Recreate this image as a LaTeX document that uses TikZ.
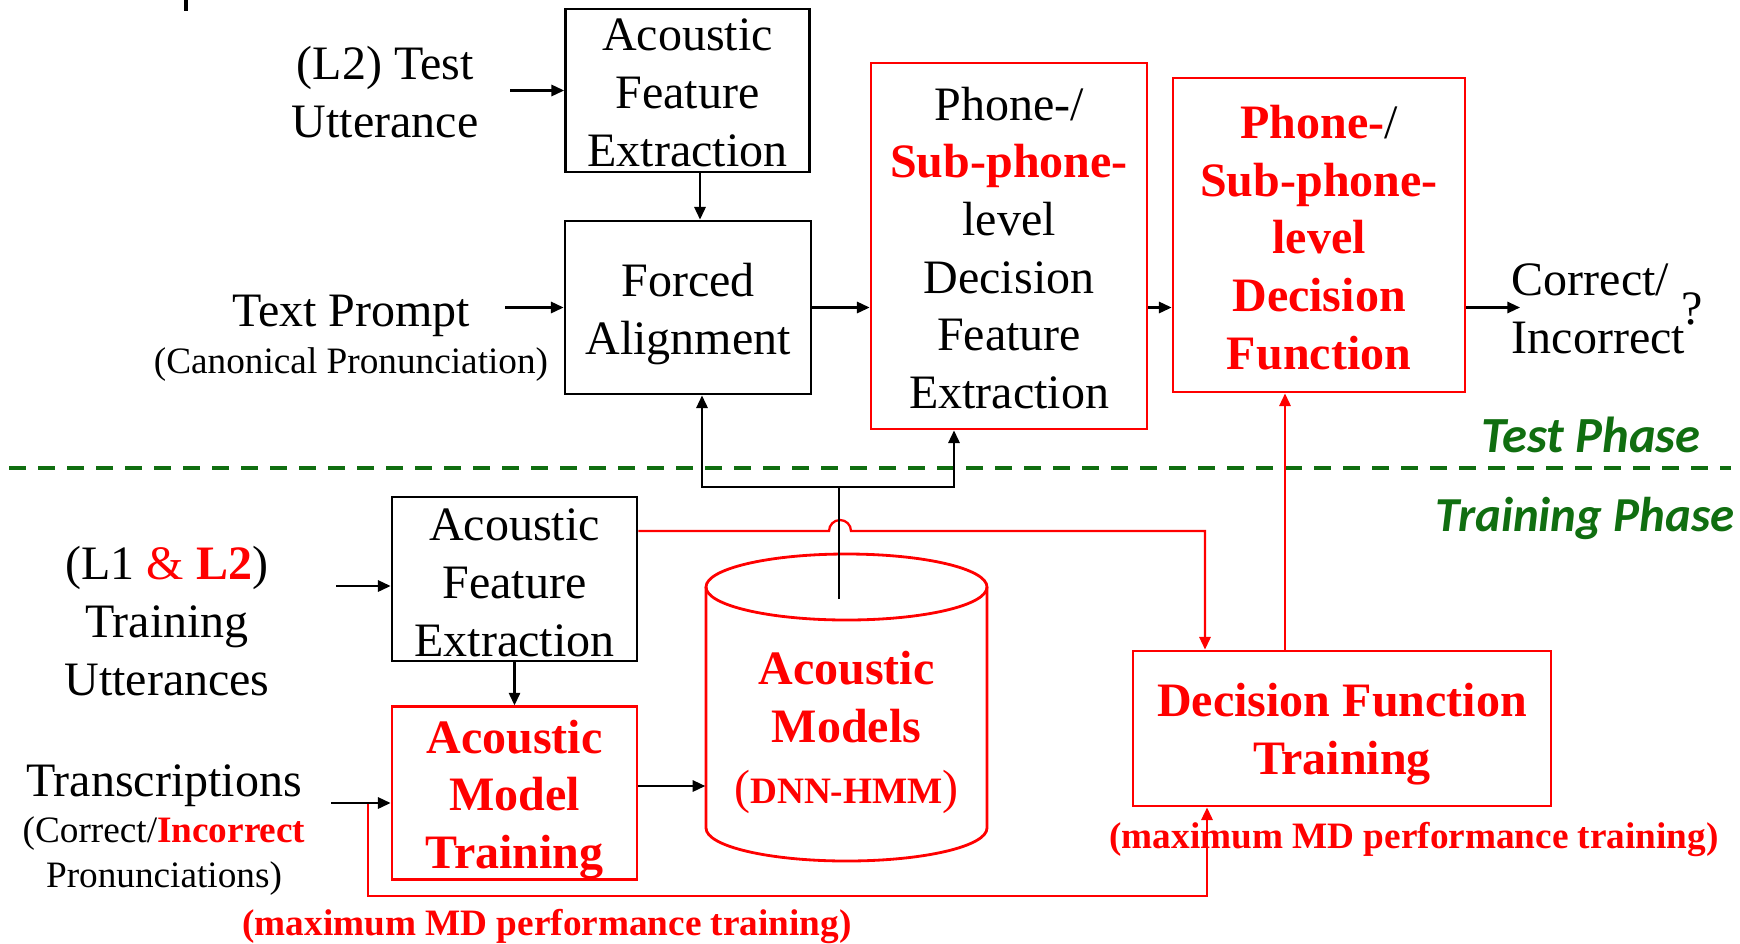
\documentclass[tikz,border=0pt]{standalone}
\usepackage{fontspec}
\setmainfont{Liberation Serif}
\newfontfamily\phasefont{Carlito}
\usetikzlibrary{arrows.meta}
\definecolor{phgreen}{RGB}{16,110,16}
\definecolor{myred}{RGB}{255,0,0}
\newcommand\fbig{\fontsize{13.66pt}{16.42pt}\selectfont}
\newcommand\fsmall{\fontsize{10.6pt}{12.8pt}\selectfont}
\newcommand\rb[1]{\textcolor{myred}{\textbf{#1}}}
\newcommand\ts[1]{\rule{0pt}{#1}}
\begin{document}
\begin{tikzpicture}[x=0.1mm,y=-0.1mm,
  box/.style={draw,line width=0.8pt,inner sep=0pt,align=center,font=\fbig},
  rbox/.style={box,draw=myred},
  txt/.style={inner sep=0pt,align=center,font=\fbig},
  stxt/.style={inner sep=0pt,align=center,font=\fsmall},
  arr/.style={line width=0.65pt,-{Triangle[length=3.6pt,width=3.2pt]}},
  rarr/.style={arr,myred},
  phase/.style={inner sep=0pt,font=\phasefont\bfseries\itshape\fontsize{13.9pt}{16pt}\selectfont,text=phgreen}
]
\useasboundingbox (0,0) rectangle (1740,943);

% ---- test phase ----
\node[box,minimum width=24.4mm,minimum height=16.3mm] (afe1) at (687.5,90.5) {\ts{10.3pt}Acoustic\\Feature\\Extraction};
\node[box,minimum width=24.6mm,minimum height=17.3mm] (fa) at (688,307.5) {\ts{13.3pt}Forced\\Alignment};
\node[rbox,minimum width=27.6mm,minimum height=36.6mm] (psdfe) at (1009,246) {\ts{10.6pt}Phone-/\\\rb{Sub-phone-}\\level\\Decision\\Feature\\Extraction};
\node[rbox,minimum width=29.2mm,minimum height=31.4mm,text=myred,font=\fbig\bfseries] (psdf) at (1319,235) {\ts{10.9pt}Phone-{\color{black}\mdseries/}\\Sub-phone-\\level\\Decision\\Function};
\node[txt] (tu) at (385,92) {(L2) Test\\Utterance};
\node[txt] (tp) at (351,315.5) {Text Prompt};
\node[stxt] (tpc) at (351,364.5) {(Canonical Pronunciation)};
\node[txt,align=left,anchor=west] (out) at (1511,309) {Correct/\\Incorrect};
\node[txt] (q) at (1692,309) {?};
\node[phase,font=\phasefont\bfseries\itshape\fontsize{14.4pt}{16pt}\selectfont] (testph) at (1591,435) {Test Phase};
\node[phase] (trainph) at (1585,518.5) {Training Phase};
\draw[phgreen,line width=1pt,dash pattern=on 1.7mm off 1.2mm] (9,468) -- (1731,468);

% ---- training phase ----
\node[box,minimum width=24.5mm,minimum height=16.4mm] (afe2) at (514.5,579) {\ts{11.25pt}Acoustic\\Feature\\Extraction};
\node[rbox,minimum width=24.5mm,minimum height=17.2mm,text=myred,font=\fbig\bfseries] (amt) at (514.5,793) {\ts{13.2pt}Acoustic\\Model\\Training};
\node[rbox,minimum width=41.8mm,minimum height=15.5mm,text=myred,font=\fbig\bfseries] (dft) at (1342,728.5) {\ts{12.6pt}Decision Function\\Training};
\node[txt] (tutt) at (167,621) {(L1 \textcolor{myred}{\&} \rb{L2})\\Training\\Utterances};
\node[txt] (trans) at (164,785.5) {Transcriptions};
\node[stxt] (transc) at (164,856.5) {(Correct/\rb{Incorrect}\\Pronunciations)};
\node[stxt,text=myred,font=\fsmall\bfseries] (md1) at (1414,839.5) {(maximum MD performance training)};
\node[stxt,text=myred,font=\fsmall\bfseries] (md2) at (547,926) {(maximum MD performance training)};

% cylinder
\draw[myred,line width=0.8pt] (846.5,587) ellipse [x radius=14.05mm,y radius=3.3mm];
\draw[myred,line width=0.8pt] (706,587) -- (706,828) arc[start angle=180,end angle=360,x radius=14.05mm,y radius=3.3mm] -- (987,587);
\node[txt,text=myred,font=\fbig\bfseries,minimum width=28.1mm] (am) at (846.5,732.5) {Acoustic\\Models\\[1pt]{\mdseries(}{\fsmall DNN-HMM}{\mdseries)}};

% ---- connectors ----
\coordinate (tuarr) at (510,90.5);
\draw[arr] (tuarr) -- (afe1.west);
\coordinate (tparr) at (505,307.5);
\draw[arr] (tparr) -- (fa.west);
\coordinate (v1) at (700,0);
\draw[arr] (v1 |- afe1.south) -- (v1 |- fa.north);
\draw[arr] (fa.east) -- (fa.east -| psdfe.west);
\draw[arr] (fa.east -| psdfe.east) -- (fa.east -| psdf.west);
\coordinate (outin) at (1520,307.5);
\draw[arr] (fa.east -| psdf.east) -- (outin);

\coordinate (tutta) at (336,586);
\draw[arr] (tutta) -- (tutta -| afe2.west);
\draw[arr] (afe2.south) -- (amt.north);

\coordinate (r0) at (368,803);
\coordinate (r1) at (1207,896);
\draw[rarr] (r0) |- (r1) -- (r1 |- dft.south);
\coordinate (transa) at (331,803);
\draw[arr] (transa) -- (transa -| amt.west);
\coordinate (c1) at (0,786);
\draw[arr] (amt.east |- c1) -- (c1 -| am.west);

\coordinate (h0) at (829,531);
\coordinate (h1) at (1205,531);
\draw[rarr] (afe2.east |- h0) -- (h0) arc[start angle=180,end angle=0,radius=1.1mm] -- (h1) -- (h1 |- dft.north);
\coordinate (p1) at (1285,0);
\draw[rarr] (p1 |- dft.north) -- (p1 |- psdf.south);

\coordinate (b0) at (839,599);
\coordinate (b1) at (839,487);
\coordinate (bl) at (702,487);
\coordinate (br) at (954,487);
\draw[line width=0.65pt] (b0) -- (b1);
\draw[arr] (b1) -- (bl) -- (bl |- fa.south);
\draw[arr] (b1) -- (br) -- (br |- psdfe.south);

\draw[line width=1pt] (186,0) -- (186,11);
\end{tikzpicture}
\end{document}
